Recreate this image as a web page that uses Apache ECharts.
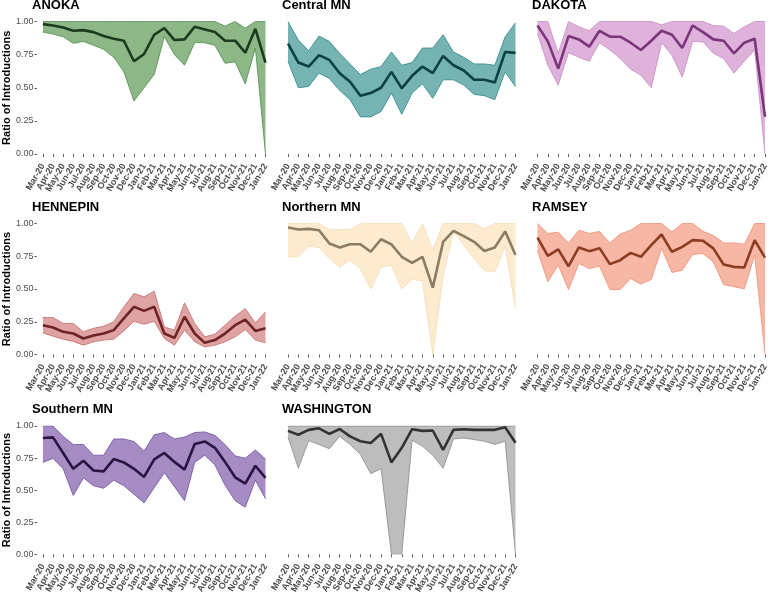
<!DOCTYPE html>
<html><head><meta charset="utf-8">
<script src="https://cdn.jsdelivr.net/npm/echarts@6/dist/echarts.min.js"></script>
<style>html,body{margin:0;padding:0;background:#fff}#c{width:775px;height:596px}</style>
</head><body><div id="c"></div>
<script>
const months = ['Mar-20','Apr-20','May-20','Jun-20','Jul-20','Aug-20','Sep-20','Oct-20','Nov-20','Dec-20','Jan-21','Feb-21','Mar-21','Apr-21','May-21','Jun-21','Jul-21','Aug-21','Sep-21','Oct-21','Nov-21','Dec-21','Jan-22'];
const yTicks = [0, 0.25, 0.5, 0.75, 1];

const anokaMid  = [0.98,0.97,0.955,0.93,0.935,0.92,0.89,0.87,0.855,0.70,0.755,0.90,0.95,0.86,0.865,0.96,0.94,0.92,0.855,0.855,0.765,0.945,0.69];
const anokaLow  = [0.92,0.905,0.885,0.835,0.85,0.82,0.79,0.73,0.62,0.40,0.50,0.60,0.885,0.75,0.67,0.84,0.84,0.82,0.685,0.695,0.53,0.80,0.0];
const anokaHigh = [1,1,1,1,1,1,1,1,1,1,1,1,1,1,1,1,1,1,0.965,1,0.95,1,1];

const centralMid  = [0.834,0.69,0.66,0.746,0.71,0.61,0.545,0.44,0.46,0.50,0.62,0.495,0.59,0.66,0.61,0.74,0.67,0.63,0.56,0.56,0.54,0.77,0.763];
const centralLow  = [0.70,0.50,0.51,0.61,0.57,0.48,0.41,0.28,0.28,0.32,0.46,0.30,0.46,0.53,0.42,0.56,0.56,0.52,0.45,0.44,0.41,0.62,0.507];
const centralHigh = [1.0,0.86,0.78,0.89,0.85,0.76,0.68,0.60,0.64,0.66,0.77,0.67,0.69,0.80,0.80,0.90,0.77,0.73,0.68,0.68,0.67,0.885,0.99];

const dakotaMid  = [0.97,0.85,0.645,0.89,0.865,0.81,0.93,0.885,0.885,0.84,0.785,0.855,0.93,0.90,0.80,0.97,0.92,0.865,0.855,0.76,0.84,0.87,0.28];
const dakotaLow  = [0.91,0.67,0.52,0.765,0.73,0.70,0.84,0.785,0.72,0.64,0.595,0.50,0.84,0.745,0.58,0.85,0.845,0.76,0.72,0.61,0.70,0.785,0.0];
const dakotaHigh = [1,1,0.76,1,0.96,0.93,1,1,1,1,1,1,0.975,1,1,1,1,0.97,0.965,0.91,0.96,1,1];

const hennepinMid  = [0.224,0.206,0.173,0.16,0.122,0.145,0.16,0.186,0.275,0.364,0.333,0.364,0.16,0.127,0.288,0.16,0.089,0.11,0.16,0.224,0.267,0.18,0.2];
const hennepinLow  = [0.165,0.14,0.117,0.10,0.071,0.097,0.11,0.117,0.18,0.254,0.23,0.254,0.122,0.071,0.186,0.097,0.058,0.071,0.097,0.135,0.19,0.11,0.09];
const hennepinHigh = [0.282,0.282,0.237,0.237,0.173,0.2,0.216,0.25,0.364,0.466,0.44,0.483,0.21,0.186,0.394,0.237,0.135,0.155,0.224,0.293,0.35,0.24,0.326];

const northernMid  = [0.97,0.954,0.959,0.949,0.847,0.817,0.842,0.842,0.784,0.88,0.84,0.746,0.70,0.746,0.51,0.86,0.944,0.903,0.86,0.79,0.817,0.94,0.76];
const northernLow  = [0.746,0.746,0.827,0.817,0.733,0.664,0.72,0.656,0.499,0.664,0.682,0.499,0.573,0.562,0.0,0.598,0.936,0.835,0.733,0.639,0.631,0.827,0.35];
const northernHigh = [1,1,1,1,0.954,0.954,0.954,1,1,1,1,1,0.852,1,0.80,1,1,1,1,0.96,1,1,1];

const ramseyMid  = [0.893,0.753,0.802,0.674,0.817,0.789,0.812,0.69,0.72,0.776,0.746,0.835,0.916,0.784,0.822,0.873,0.868,0.81,0.687,0.669,0.664,0.873,0.74];
const ramseyLow  = [0.79,0.555,0.682,0.496,0.695,0.656,0.674,0.496,0.496,0.58,0.537,0.573,0.81,0.626,0.644,0.763,0.771,0.707,0.534,0.517,0.501,0.758,0.0];
const ramseyHigh = [1,0.924,0.934,0.852,0.949,0.924,0.939,0.852,0.92,0.949,1,1,1,0.936,1,1,0.94,0.91,0.852,0.852,0.842,1,1];

const southernMid  = [0.906,0.911,0.79,0.666,0.729,0.653,0.646,0.742,0.716,0.666,0.603,0.74,0.79,0.72,0.66,0.86,0.88,0.83,0.72,0.60,0.55,0.69,0.595];
const southernLow  = [0.716,0.747,0.666,0.458,0.595,0.534,0.514,0.577,0.534,0.468,0.40,0.519,0.635,0.527,0.418,0.716,0.772,0.696,0.539,0.418,0.367,0.577,0.433];
const southernHigh = [1,1,0.919,0.856,0.856,0.772,0.772,0.899,0.899,0.88,0.805,0.932,0.949,0.899,0.914,0.949,0.954,0.927,0.856,0.767,0.749,0.813,0.742];

const washMid  = [0.962,0.932,0.97,0.982,0.939,0.977,0.919,0.881,0.868,0.939,0.716,0.83,0.975,0.962,0.965,0.813,0.97,0.975,0.97,0.97,0.97,0.99,0.87];
const washLow  = [0.914,0.671,0.886,0.856,0.823,0.919,0.856,0.78,0.628,0.666,0.0,0.0,0.889,0.843,0.772,0.671,0.899,0.906,0.894,0.881,0.856,0.881,0.0];
const washHigh = [1,1,1,1,1,1,1,1,1,1,1,1,1,1,1,1,1,1,1,1,1,1,1];

const panels = [
  {name:'ANOKA', mid:anokaMid, low:anokaLow, high:anokaHigh, fill:'#8db787', edge:'#4b8b47', line:'#1c3a1c'},
  {name:'Central MN', mid:centralMid, low:centralLow, high:centralHigh, fill:'#76b3b3', edge:'#2e8686', line:'#0d4040'},
  {name:'DAKOTA', mid:dakotaMid, low:dakotaLow, high:dakotaHigh, fill:'#deb2da', edge:'#c88cc3', line:'#7b357b'},
  {name:'HENNEPIN', mid:hennepinMid, low:hennepinLow, high:hennepinHigh, fill:'#dfa3a3', edge:'#c46a6a', line:'#6e2424'},
  {name:'Northern MN', mid:northernMid, low:northernLow, high:northernHigh, fill:'#fdebd0', edge:'#f8dcb5', line:'#8b7d62'},
  {name:'RAMSEY', mid:ramseyMid, low:ramseyLow, high:ramseyHigh, fill:'#f6b8a5', edge:'#ef8e73', line:'#8c3c22'},
  {name:'Southern MN', mid:southernMid, low:southernLow, high:southernHigh, fill:'#a68cc3', edge:'#6e51a0', line:'#2b1342'},
  {name:'WASHINGTON', mid:washMid, low:washLow, high:washHigh, fill:'#bdbdbd', edge:'#8a8a8a', line:'#333333'}
];

const colLeft = [38, 288, 537.5];
const rowTop = [21.5, 223.5, 426];
const rowH = [132.5, 131, 131.5];
const plotW = 227.5;
const titleTop = [-1.5, 200.5, 403];
const titleLeft = [32, 282, 532];

const grid = [], xAxis = [], yAxis = [], series = [], title = [];
panels.forEach((p, i) => {
  const r = Math.floor(i / 3), c = i % 3;
  grid.push({left: colLeft[c], top: rowTop[r], width: plotW, height: rowH[r], containLabel: false});
  title.push({text: p.name, left: titleLeft[c], top: titleTop[r], padding: 0,
    textStyle: {fontFamily: 'Liberation Sans, Arial, sans-serif', fontSize: 13, fontWeight: 'bold', color: '#000'}});
  xAxis.push({type: 'category', gridIndex: i, data: months, boundaryGap: false, offset: 6.5,
    axisLine: {show: false},
    axisTick: {show: true, length: 3, interval: 0, lineStyle: {color: '#333', width: 0.8}},
    axisLabel: {interval: 0, rotate: 60, fontSize: 9, fontWeight: 'bold', margin: 4, color: '#4d4d4d',
      fontFamily: 'Liberation Sans, Arial, sans-serif'},
    splitLine: {show: false}});
  const showY = c === 0;
  yAxis.push({type: 'value', gridIndex: i, min: 0, max: 1, interval: 0.25, offset: 6,
    axisLine: {show: false},
    axisTick: {show: showY, length: 2.5, lineStyle: {color: '#333', width: 0.8}},
    axisLabel: {show: showY, fontSize: 9, margin: 3.5, color: '#4d4d4d',
      fontFamily: 'Liberation Sans, Arial, sans-serif',
      formatter: v => yTicks.includes(v) ? v.toFixed(2) : ''},
    splitLine: {show: false},
    name: showY ? 'Ratio of Introductions' : '', nameLocation: 'middle', nameRotate: 90, nameGap: 20,
    nameTextStyle: {fontSize: 11, fontWeight: 'bold', color: '#000', fontFamily: 'Liberation Sans, Arial, sans-serif'}});
  const base = {type: 'line', xAxisIndex: i, yAxisIndex: i, symbol: 'none', silent: true, animation: false};
  series.push(Object.assign({}, base, {data: p.low, stack: 'band' + i, lineStyle: {opacity: 0, width: 0}, z: 1}));
  series.push(Object.assign({}, base, {data: p.high.map((h, k) => +(h - p.low[k]).toFixed(4)), stack: 'band' + i,
    lineStyle: {opacity: 0, width: 0}, areaStyle: {color: p.fill, opacity: 1}, z: 1}));
  series.push(Object.assign({}, base, {data: p.high, lineStyle: {color: p.edge, width: 0.8}, z: 2}));
  series.push(Object.assign({}, base, {data: p.low, lineStyle: {color: p.edge, width: 0.8}, z: 2}));
  series.push(Object.assign({}, base, {data: p.mid, lineStyle: {color: p.line, width: 2.6}, z: 3}));
});

const chart = echarts.init(document.getElementById('c'), null, {renderer: 'canvas'});
chart.setOption({animation: false, backgroundColor: '#fff', title, grid, xAxis, yAxis, series});
</script>
</body></html>
